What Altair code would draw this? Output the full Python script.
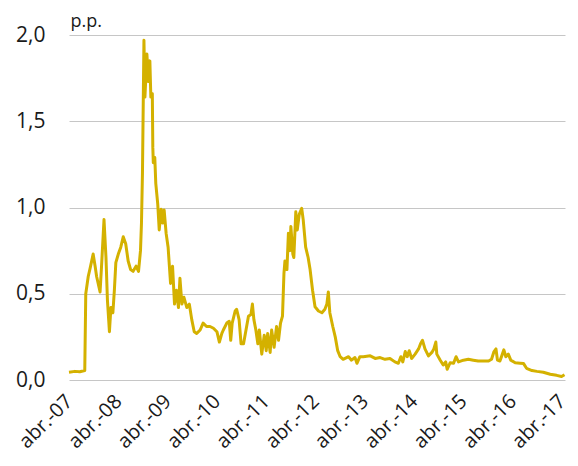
import altair as alt
import pandas as pd

# decimal years (time axis) and spread values in p.p.
years = [
    2007.25, 2007.37, 2007.47, 2007.57, 2007.59, 2007.64, 2007.68, 2007.74, 2007.78, 2007.81,
    2007.88, 2007.91, 2007.96, 2008.00, 2008.03, 2008.07, 2008.10, 2008.14, 2008.17, 2008.20,
    2008.25, 2008.30, 2008.35, 2008.40, 2008.45, 2008.50, 2008.55, 2008.61, 2008.66, 2008.70,
    2008.72, 2008.74, 2008.77, 2008.79, 2008.83, 2008.86, 2008.89, 2008.91, 2008.94, 2008.95,
    2008.96, 2008.99, 2009.01, 2009.05, 2009.08, 2009.12, 2009.15, 2009.18, 2009.22, 2009.26,
    2009.31, 2009.35, 2009.39, 2009.43, 2009.47, 2009.50, 2009.54, 2009.58, 2009.64, 2009.69,
    2009.74, 2009.79, 2009.84, 2009.91, 2009.97, 2010.04, 2010.11, 2010.18, 2010.25, 2010.30,
    2010.35, 2010.38, 2010.45, 2010.50, 2010.53, 2010.56, 2010.62, 2010.65, 2010.70, 2010.74,
    2010.79, 2010.84, 2010.89, 2010.94, 2010.97, 2011.00, 2011.04, 2011.08, 2011.11, 2011.16,
    2011.21, 2011.25, 2011.28, 2011.33, 2011.36, 2011.41, 2011.46, 2011.50, 2011.54, 2011.58,
    2011.61, 2011.63, 2011.67, 2011.70, 2011.73, 2011.75, 2011.79, 2011.81, 2011.85, 2011.88,
    2011.92, 2011.97, 2012.00, 2012.05, 2012.10, 2012.14, 2012.19, 2012.24, 2012.31, 2012.38,
    2012.44, 2012.48, 2012.51, 2012.54, 2012.60, 2012.65, 2012.70, 2012.75, 2012.81, 2012.92,
    2012.98, 2013.05, 2013.09, 2013.15, 2013.22, 2013.36, 2013.46, 2013.56, 2013.66, 2013.76,
    2013.86, 2013.93, 2013.98, 2014.02, 2014.07, 2014.11, 2014.15, 2014.20, 2014.27, 2014.34,
    2014.38, 2014.42, 2014.47, 2014.54, 2014.61, 2014.65, 2014.69, 2014.71, 2014.78, 2014.84,
    2014.89, 2014.92, 2014.98, 2015.05, 2015.10, 2015.15, 2015.25, 2015.35, 2015.45, 2015.55,
    2015.65, 2015.76, 2015.82, 2015.87, 2015.91, 2015.94, 2015.99, 2016.04, 2016.07, 2016.11,
    2016.16, 2016.21, 2016.30, 2016.40, 2016.47, 2016.53, 2016.64, 2016.74, 2016.87, 2017.01,
    2017.14, 2017.24, 2017.30,
]
values = [
    0.045, 0.050, 0.048, 0.055, 0.50, 0.60, 0.65, 0.73, 0.66, 0.60,
    0.51, 0.66, 0.93, 0.71, 0.46, 0.28, 0.42, 0.39, 0.52, 0.68,
    0.73, 0.77, 0.83, 0.79, 0.69, 0.64, 0.63, 0.66, 0.63, 0.75,
    0.91, 1.20, 1.97, 1.64, 1.89, 1.73, 1.85, 1.64, 1.66, 1.35,
    1.26, 1.29, 1.14, 1.02, 0.87, 0.99, 0.91, 0.985, 0.85, 0.77,
    0.56, 0.66, 0.44, 0.52, 0.42, 0.59, 0.44, 0.48, 0.42, 0.44,
    0.35, 0.28, 0.27, 0.29, 0.33, 0.31, 0.31, 0.30, 0.28, 0.22,
    0.27, 0.29, 0.33, 0.34, 0.23, 0.33, 0.40, 0.41, 0.35, 0.21,
    0.21, 0.29, 0.37, 0.38, 0.44, 0.35, 0.29, 0.21, 0.29, 0.15,
    0.26, 0.17, 0.27, 0.16, 0.29, 0.19, 0.31, 0.23, 0.33, 0.37,
    0.62, 0.69, 0.64, 0.85, 0.75, 0.89, 0.73, 0.71, 0.975, 0.87,
    0.96, 0.995, 0.93, 0.77, 0.71, 0.64, 0.52, 0.425, 0.40, 0.39,
    0.41, 0.44, 0.51, 0.39, 0.31, 0.25, 0.17, 0.135, 0.12, 0.135,
    0.115, 0.13, 0.097, 0.135, 0.135, 0.14, 0.125, 0.13, 0.12, 0.125,
    0.105, 0.097, 0.135, 0.105, 0.165, 0.135, 0.17, 0.125, 0.15, 0.18,
    0.21, 0.23, 0.18, 0.14, 0.16, 0.18, 0.22, 0.15, 0.115, 0.087,
    0.105, 0.062, 0.10, 0.097, 0.135, 0.105, 0.115, 0.12, 0.115, 0.11,
    0.11, 0.11, 0.12, 0.165, 0.18, 0.115, 0.11, 0.15, 0.175, 0.135,
    0.15, 0.115, 0.10, 0.097, 0.095, 0.068, 0.055, 0.05, 0.045, 0.033,
    0.027, 0.02, 0.03,
]
x_ticks = [2007.25 + i for i in range(11)]
y_ticks = [0.0, 0.5, 1.0, 1.5, 2.0]

df = pd.DataFrame({"year": years, "value": values})

FONT = "Open Sans"

chart = alt.Chart(df).mark_line(color="#D4B100", strokeWidth=3, strokeJoin="round").encode(
    x=alt.X(
        "year:Q",
        scale=alt.Scale(domain=[2007.25, 2017.31], nice=False, zero=False),
        axis=alt.Axis(
            values=x_ticks,
            labelExpr="'abr.-' + substring(toString(floor(datum.value + 0.01)), 2, 4)",
            labelAngle=315,
            labelAlign="right",
            labelBaseline="middle",
            labelPadding=18,
            labelFontSize=20,
            labelFont=FONT,
            labelColor="#1a1a1a",
            labelOverlap=False,
            grid=False,
            ticks=False,
            domain=False,
            title=None,
        ),
    ),
    y=alt.Y(
        "value:Q",
        scale=alt.Scale(domain=[0, 2.0], nice=False),
        axis=alt.Axis(
            values=y_ticks,
            labelExpr="replace(format(datum.value, '.1f'), '.', ',')",
            labelFontSize=21,
            labelFont=FONT,
            labelColor="#1a1a1a",
            labelPadding=24,
            grid=True,
            gridColor="#c6c6c6",
            gridWidth=1,
            ticks=False,
            domain=False,
            title="p.p.",
            titleAngle=0,
            titleAlign="left",
            titleBaseline="alphabetic",
            titleX=1,
            titleY=-9,
            titleFont=FONT,
            titleFontSize=18,
            titleFontWeight="normal",
            titleColor="#1a1a1a",
        ),
    ),
).properties(
    width=496,
    height=345,
    autosize=alt.AutoSizeParams(type="none"),
    padding={"left": 61, "top": 27, "right": 5, "bottom": 78},
).configure_view(stroke=None)

chart.save("out.html", embed_options={"renderer": "svg", "actions": False})
